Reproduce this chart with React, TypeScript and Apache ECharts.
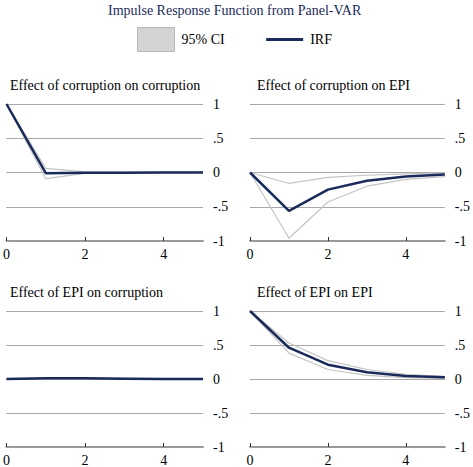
import React, { useEffect, useRef } from "react";
import * as echarts from "echarts";

const STEPS = [0, 1, 2, 3, 4, 5];
const X_TICKS = [0, 2, 4];
const Y_TICK_VALUES = [-1, -0.5, 0, 0.5, 1];
const Y_TICK_LABELS = ["-1", "-.5", "0", ".5", "1"];

const PANEL_TITLES = [
  "Effect of corruption on corruption",
  "Effect of corruption on EPI",
  "Effect of EPI on corruption",
  "Effect of EPI on EPI",
];

// corruption -> corruption
const irfCC = [1, -0.01, -0.005, -0.005, 0, 0];
const upCC = [1, 0.06, 0.01, 0.005, 0.005, 0.005];
const loCC = [1, -0.09, -0.012, -0.006, -0.002, 0];
// corruption -> EPI
const irfCE = [0, -0.56, -0.25, -0.12, -0.06, -0.03];
const upCE = [0, -0.16, -0.07, -0.04, -0.02, -0.01];
const loCE = [0, -0.96, -0.43, -0.2, -0.1, -0.06];
// EPI -> corruption
const irfEC = [0, 0.01, 0.01, 0.005, 0, 0];
const upEC = [0, 0.015, 0.015, 0.01, 0.005, 0.004];
const loEC = [0, 0.004, 0.003, 0, -0.004, -0.004];
// EPI -> EPI
const irfEE = [1, 0.46, 0.21, 0.1, 0.045, 0.025];
const upEE = [1, 0.53, 0.27, 0.14, 0.07, 0.035];
const loEE = [1, 0.38, 0.14, 0.054, 0.02, 0.01];

const PANELS = [
  { irf: irfCC, up: upCC, lo: loCC },
  { irf: irfCE, up: upCE, lo: loCE },
  { irf: irfEC, up: upEC, lo: loEC },
  { irf: irfEE, up: upEE, lo: loEE },
];

const FONT = "Liberation Serif";
const NAVY = "#1b2a5b";
const CI_COLOR = "#c4c4c4";
const GRID_COLOR = "#a8a8a8";

export default function App() {
  const ref = useRef<HTMLDivElement>(null);
  useEffect(() => {
    if (!ref.current) return;
    const chart = echarts.init(ref.current, null, { renderer: "svg" });
    const gridPos = [
      { left: 3, top: 104 },
      { left: 250, top: 104 },
      { left: 3, top: 311 },
      { left: 250, top: 311 },
    ];
    const titlePos = [
      { left: 10, top: 78 },
      { left: 257, top: 78 },
      { left: 10, top: 285 },
      { left: 257, top: 285 },
    ];
    const toPts = (arr: number[]) => STEPS.map((s, i) => [s, arr[i]]);
    const series: any[] = [];
    PANELS.forEach((p, i) => {
      series.push({
        type: "line", name: "95% CI", xAxisIndex: i, yAxisIndex: i,
        data: toPts(p.up), symbol: "none", lineStyle: { color: CI_COLOR, width: 1.2 },
        itemStyle: { color: CI_COLOR }, silent: true,
      });
      series.push({
        type: "line", name: "95% CI", xAxisIndex: i, yAxisIndex: i,
        data: toPts(p.lo), symbol: "none", lineStyle: { color: CI_COLOR, width: 1.2 },
        itemStyle: { color: CI_COLOR }, silent: true,
      });
      series.push({
        type: "line", name: "IRF", xAxisIndex: i, yAxisIndex: i,
        data: toPts(p.irf), symbol: "none", lineStyle: { color: NAVY, width: 2.5 },
        itemStyle: { color: NAVY }, z: 5, silent: true,
      });
    });
    chart.setOption({
      animation: false,
      backgroundColor: "#ffffff",
      textStyle: { fontFamily: FONT },
      title: [
        {
          text: "Impulse Response Function from Panel-VAR",
          left: 108, top: 3, padding: 0,
          textStyle: { fontFamily: FONT, fontSize: 14, fontWeight: "normal", color: NAVY },
        },
        ...PANEL_TITLES.map((t, i) => ({
          text: t, left: titlePos[i].left, top: titlePos[i].top, padding: 0,
          textStyle: { fontFamily: FONT, fontSize: 14, fontWeight: "normal", color: "#000" },
        })),
      ],
      legend: {
        left: 137, top: 27, padding: 0,
        itemWidth: 37, itemHeight: 24, itemGap: 40,
        selectedMode: false,
        textStyle: { fontFamily: FONT, fontSize: 14, color: "#000", padding: [0, 0, 0, 2] },
        data: [
          {
            name: "95% CI", icon: "rect",
            itemStyle: { color: "#d4d4d4", borderColor: "#b9b9b9", borderWidth: 1 },
          },
          {
            name: "IRF",
            itemStyle: { opacity: 0 },
            lineStyle: { color: NAVY, width: 3 },
          },
        ],
      },
      grid: gridPos.map((g) => ({ left: g.left, top: g.top, width: 200, height: 137 })),
      xAxis: gridPos.map((_, i) => ({
        type: "value", gridIndex: i, min: 0, max: 5,
        axisLine: { show: true, onZero: false, lineStyle: { color: "#999", width: 2 } },
        axisTick: { show: true, inside: true, length: 4, customValues: X_TICKS, lineStyle: { color: "#333", width: 1 } },
        axisLabel: { customValues: X_TICKS, fontFamily: FONT, fontSize: 14, color: "#000", margin: 6 },
        splitLine: { show: false },
      })),
      yAxis: gridPos.map((_, i) => ({
        type: "value", gridIndex: i, position: "right", min: -1, max: 1, interval: 0.5,
        axisLine: { show: false },
        axisTick: { show: true, length: 3, lineStyle: { color: GRID_COLOR } },
        axisLabel: {
          fontFamily: FONT, fontSize: 14, color: "#000", margin: 10,
          formatter: (v: number) => {
            const k = Y_TICK_VALUES.findIndex((t) => Math.abs(t - v) < 1e-9);
            return k >= 0 ? Y_TICK_LABELS[k] : "";
          },
        },
        splitLine: { show: true, lineStyle: { color: GRID_COLOR, width: 1.2 } },
      })),
      series,
    });
    return () => chart.dispose();
  }, []);
  return (
    <div
      ref={ref}
      style={{ position: "fixed", left: 0, top: 0, width: 473, height: 467, background: "#fff" }}
    />
  );
}
